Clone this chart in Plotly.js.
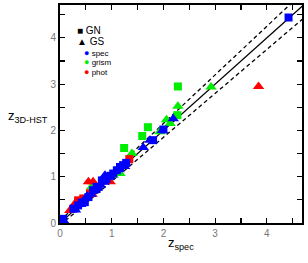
<!DOCTYPE html>
<html>
<head>
<meta charset="utf-8">
<script src="https://cdn.plot.ly/plotly-3.0.1.min.js"></script>
<style>html,body{margin:0;padding:0;background:#fff}#chart{width:308px;height:263px}</style>
</head>
<body>
<div id="chart"></div>
<script>
// GN = squares, GS = triangles; spec = blue, grism = green, phot = red
const gnSpecX = [4.42, 2.00, 1.80, 1.22, 1.16, 1.03, 0.81, 0.71, 0.64, 0.48, 0.35, 0.26, 0.06, 0.90, 1.10, 0.55, 0.75, 0.42, 1.28, 0.98];
const gnSpecY = [4.44, 2.02, 1.79, 1.25, 1.21, 1.07, 0.92, 0.78, 0.71, 0.45, 0.38, 0.31, 0.09, 0.95, 1.14, 0.56, 0.78, 0.44, 1.30, 1.02];
const gsSpecX = [2.19, 1.74, 1.61, 1.25, 0.87, 0.95, 0.68, 0.52, 0.30, 0.07, 1.98, 1.14, 0.78, 0.40, 0.85, 0.60];
const gsSpecY = [2.25, 1.79, 1.63, 1.22, 1.03, 1.00, 0.70, 0.58, 0.28, 0.05, 2.00, 1.15, 0.82, 0.40, 0.88, 0.62];
const gnGrismX = [2.28, 1.70, 1.59, 1.24, 2.27];
const gnGrismY = [2.95, 2.07, 1.88, 1.62, 2.33];
const gsGrismX = [2.92, 2.28, 2.06, 1.93, 1.16, 1.39, 1.03, 0.61, 2.13];
const gsGrismY = [2.94, 2.52, 2.23, 1.97, 1.07, 1.50, 1.03, 0.78, 2.15];
const gnPhotX = [1.34, 0.58, 0.45, 0.35];
const gnPhotY = [1.38, 0.64, 0.53, 0.49];
const gsPhotX = [3.84, 0.55, 0.64, 0.97, 0.29, 0.19, 0.62];
const gsPhotY = [2.95, 0.89, 0.89, 0.89, 0.42, 0.27, 0.62];

const lineX = [0, 4.7];
const tol = 0.05; // dashed lines: dz = ±0.05(1+z)

const BLUE = '#0000ff', GREEN = '#00ee00', RED = '#ff0000';
function pts(x, y, sym, color, size) {
  return {x: x, y: y, type: 'scatter', mode: 'markers', showlegend: false, hoverinfo: 'skip',
    marker: {symbol: sym, color: color, size: size, line: {width: 0}}};
}
const traces = [
  {x: lineX, y: lineX, mode: 'lines', line: {color: '#000', width: 1.3}, showlegend: false},
  {x: lineX, y: lineX.map(v => v + tol * (1 + v)), mode: 'lines', line: {color: '#000', width: 1.3, dash: '4px,3px'}, showlegend: false},
  {x: lineX, y: lineX.map(v => v - tol * (1 + v)), mode: 'lines', line: {color: '#000', width: 1.3, dash: '4px,3px'}, showlegend: false},
  pts(gnGrismX, gnGrismY, 'square', GREEN, 8),
  pts(gsGrismX, gsGrismY, 'triangle-up', GREEN, 10),
  pts(gnPhotX, gnPhotY, 'square', RED, 8),
  pts(gsPhotX, gsPhotY, 'triangle-up', RED, 10),
  pts(gnSpecX, gnSpecY, 'square', BLUE, 8),
  pts(gsSpecX, gsSpecY, 'triangle-up', BLUE, 10)
];

const axisCommon = {
  showgrid: false, zeroline: false, showline: true, linecolor: '#000', linewidth: 2,
  mirror: 'ticks', ticks: 'inside', ticklen: 5, tickwidth: 1.2, tickcolor: '#000',
  dtick: 1, tick0: 0,
  tickfont: {family: 'Liberation Sans, Arial, sans-serif', size: 10, color: '#777'},
  minor: {dtick: 0.5, ticks: 'inside', ticklen: 5, tickwidth: 1.2, tickcolor: '#000', showgrid: false}
};

const F = 'Liberation Sans, Arial, sans-serif';
const layout = {
  width: 308, height: 263,
  margin: {l: 60, r: 6, t: 5, b: 40},
  paper_bgcolor: '#fff', plot_bgcolor: '#fff',
  showlegend: false,
  xaxis: Object.assign({}, axisCommon, {range: [0, 4.68]}),
  yaxis: Object.assign({}, axisCommon, {range: [0, 4.71]}),
  annotations: [
    {xref: 'paper', yref: 'paper', x: -0.225, y: 0.49, xanchor: 'left', yanchor: 'middle', showarrow: false,
     text: 'z<sub>3D-HST</sub>', font: {family: F, size: 13, color: '#000'}},
    {xref: 'paper', yref: 'paper', x: 0.5, y: -0.095, xanchor: 'center', yanchor: 'middle', showarrow: false,
     text: 'z<sub>spec</sub>', font: {family: F, size: 13, color: '#000'}},
    {xref: 'paper', yref: 'paper', x: 0.062, y: 0.882, xanchor: 'left', yanchor: 'middle', showarrow: false,
     text: '■ GN', font: {family: F, size: 10, color: '#000'}},
    {xref: 'paper', yref: 'paper', x: 0.062, y: 0.832, xanchor: 'left', yanchor: 'middle', showarrow: false,
     text: '▲ GS', font: {family: F, size: 10, color: '#000'}},
    {xref: 'paper', yref: 'paper', x: 0.089, y: 0.781, xanchor: 'left', yanchor: 'middle', showarrow: false,
     text: '<span style="color:#0000ff;font-size:9px">●</span> spec', font: {family: F, size: 8, color: '#000'}},
    {xref: 'paper', yref: 'paper', x: 0.089, y: 0.737, xanchor: 'left', yanchor: 'middle', showarrow: false,
     text: '<span style="color:#00ee00;font-size:9px">●</span> grism', font: {family: F, size: 8, color: '#000'}},
    {xref: 'paper', yref: 'paper', x: 0.089, y: 0.692, xanchor: 'left', yanchor: 'middle', showarrow: false,
     text: '<span style="color:#ff0000;font-size:9px">●</span> phot', font: {family: F, size: 8, color: '#000'}}
  ]
};

Plotly.newPlot('chart', traces, layout, {staticPlot: true, displayModeBar: false});
</script>
</body>
</html>
